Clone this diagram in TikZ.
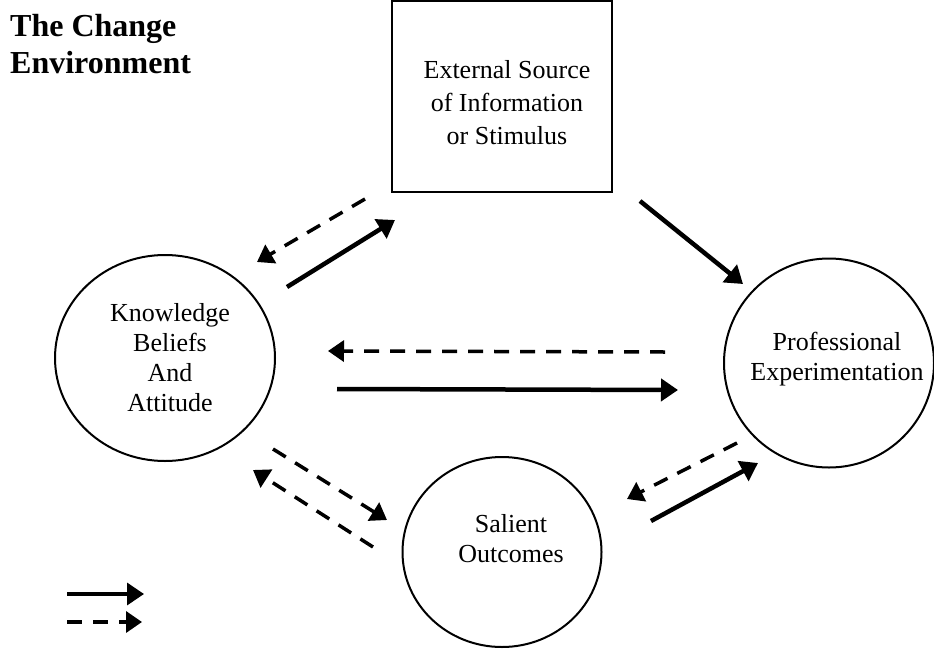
\documentclass[tikz,border=0pt]{standalone}
\usepackage{fontspec}
\setmainfont{Liberation Serif}
\usetikzlibrary{shapes.geometric, arrows.meta}

\begin{document}
\begin{tikzpicture}
        [
            x=1pt, y=-1pt,
            every node/.style={font=\fontsize{26}{30}\selectfont, align=center},
            stage/.style={ellipse, draw, line width=2pt, inner sep=0pt},
            source/.style={rectangle, draw, line width=2pt, inner sep=0pt},
            flow/.style={line width=4.5pt, -{Triangle[length=17pt, width=22pt]}},
            feedback/.style={line width=3.5pt, dash pattern=on 15pt off 11pt,
                             -{Triangle[length=16pt, width=21pt]}}
        ]
        \useasboundingbox (0,0) rectangle (934,648);
        \node (title) [anchor=north west, inner sep=0pt, align=left,
                       font=\fontsize{32}{37}\selectfont\bfseries] at (10,14) {The Change\\Environment};
        \node (ext) [source, minimum width=220pt, minimum height=191pt,
                     label={[xshift=5pt, yshift=-6pt, font=\fontsize{26}{33}\selectfont]center:External Source\\of Information\\or Stimulus}]
                     at (502,96.5) {};
        \node (kba) [stage, minimum width=220pt, minimum height=206pt,
                     label={[xshift=5pt]center:Knowledge\\Beliefs\\And\\Attitude}] at (165,358) {};
        \node (pro) [stage, minimum width=210pt, minimum height=209pt,
                     label={[xshift=8pt, yshift=4pt]center:Professional\\Experimentation}] at (829,363) {};
        \node (sal) [stage, minimum width=199pt, minimum height=190pt,
                     label={[xshift=9pt, yshift=13pt]center:Salient\\Outcomes}] at (502,552) {};
        % arrow ends
        \coordinate (k1) at (287,287);
        \coordinate (e1) at (395,220);
        \coordinate (e2) at (365,199);
        \coordinate (k2) at (257,262);
        \coordinate (e3) at (640,201);
        \coordinate (p3) at (743,284);
        \coordinate (p4) at (665,352);
        \coordinate (k4) at (328,351);
        \coordinate (k5) at (337,389);
        \coordinate (p5) at (678,390);
        \coordinate (k6) at (273,449);
        \coordinate (s6) at (387,520);
        \coordinate (s7) at (373,547);
        \coordinate (k7) at (253,470);
        \coordinate (p8) at (737,443);
        \coordinate (s8) at (627,499);
        \coordinate (s9) at (651,521);
        \coordinate (p9) at (758,463);
        \foreach \i/\j in {k1/e1, e3/p3, k5/p5, s9/p9}
            \draw [flow] (\i) -- (\j);
        \foreach \i/\j in {e2/k2, p4/k4, k6/s6, s7/k7, p8/s8}
            \draw [feedback] (\i) -- (\j);
        % key
        \coordinate (la) at (67,594);
        \coordinate (lb) at (144,594);
        \coordinate (lc) at (67,622);
        \coordinate (ld) at (142,622);
        \draw [flow, line width=3.5pt] (la) -- (lb);
        \draw [feedback] (lc) -- (ld);
    \end{tikzpicture}
\end{document}
